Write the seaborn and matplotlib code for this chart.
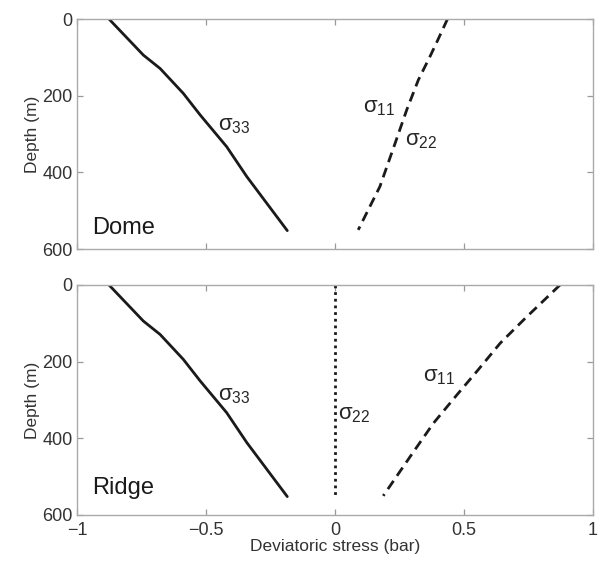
import numpy as np
import pandas as pd
import matplotlib
matplotlib.use("Agg")
import matplotlib.pyplot as plt
import seaborn as sns

# depth profiles (m) and deviatoric stress (bar)
s33_depth = [0, 94, 129, 194, 250, 333, 411, 552]
s33_stress = [-0.876, -0.743, -0.678, -0.588, -0.523, -0.420, -0.342, -0.185]

dome_s11_depth = [0, 64, 98, 159, 237, 324, 437, 550]
dome_s11_stress = [0.436, 0.392, 0.368, 0.323, 0.278, 0.233, 0.174, 0.090]

ridge_s11_depth = [0, 83, 152, 226, 287, 361, 448, 550]
ridge_s11_stress = [0.872, 0.743, 0.640, 0.549, 0.472, 0.381, 0.291, 0.187]

ridge_s22_depth = [0, 550]
ridge_s22_stress = [0.0, 0.0]

panels = ["Dome", "Ridge"]
y_ticks = [0, 200, 400, 600]
x_ticks = [-1, -0.5, 0, 0.5, 1]
x_tick_labels = ["\u22121", "\u22120.5", "0", "0.5", "1"]

sns.set_style("white")
plt.rcParams['font.family'] = ['Liberation Sans', 'DejaVu Sans']
plt.rcParams['mathtext.fontset'] = 'custom'
plt.rcParams['mathtext.rm'] = 'Liberation Sans'
plt.rcParams['mathtext.it'] = 'Liberation Sans'

fig = plt.figure(figsize=(6.04, 5.61), dpi=100)
ax_top = fig.add_axes([0.1275, 0.5561, 0.8543, 0.41])
ax_bot = fig.add_axes([0.1275, 0.082, 0.8543, 0.41])

def draw(ax, depth, stress, style):
    df = pd.DataFrame({"depth": depth, "stress": stress})
    sns.lineplot(data=df, x="stress", y="depth", sort=False, ax=ax,
                 color="#1a1a1a", lw=2.0, linestyle=style, estimator=None)

# top panel: dome
draw(ax_top, s33_depth, s33_stress, "-")
draw(ax_top, dome_s11_depth, dome_s11_stress, (0, (3.6, 2.2)))
ax_top.text(-0.455, 277, r"$\sigma_{33}$", fontsize=16, va="center")
ax_top.text(0.11, 232, r"$\sigma_{11}$", fontsize=16, va="center")
ax_top.text(0.27, 316, r"$\sigma_{22}$", fontsize=16, va="center")

# bottom panel: ridge
draw(ax_bot, s33_depth, s33_stress, "-")
draw(ax_bot, ridge_s22_depth, ridge_s22_stress, (0, (1, 1.4)))
draw(ax_bot, ridge_s11_depth, ridge_s11_stress, (0, (3.6, 2.2)))
ax_bot.text(-0.455, 287, r"$\sigma_{33}$", fontsize=16, va="center")
ax_bot.text(0.012, 339, r"$\sigma_{22}$", fontsize=16, va="center")
ax_bot.text(0.34, 240, r"$\sigma_{11}$", fontsize=16, va="center")

for ax, name in zip([ax_top, ax_bot], panels):
    ax.set_xlim(-1, 1)
    ax.set_ylim(600, 0)
    ax.set_yticks(y_ticks)
    ax.set_xticks(x_ticks)
    ax.set_ylabel("Depth (m)", fontsize=12.5, color="#333333", labelpad=2)
    ax.set_xlabel("")
    ax.tick_params(direction="in", length=4, color="#999999", width=0.9,
                   bottom=True, left=True, top=True, right=True,
                   labelsize=13, labelcolor="#333333")
    ax.tick_params(axis="x", pad=5)
    ax.tick_params(axis="y", pad=3)
    for sp in ax.spines.values():
        sp.set_color("#aaaaaa")
        sp.set_linewidth(1.0)
    ax.text(-0.94, 545 if name == "Dome" else 530, name, fontsize=17, va="center",
            color="#1a1a1a")

ax_top.set_xticklabels([])
ax_bot.set_xticklabels(x_tick_labels)
ax_bot.set_xlabel("Deviatoric stress (bar)", fontsize=12.5, color="#333333", labelpad=0)

fig.savefig("out.png", dpi=100)
